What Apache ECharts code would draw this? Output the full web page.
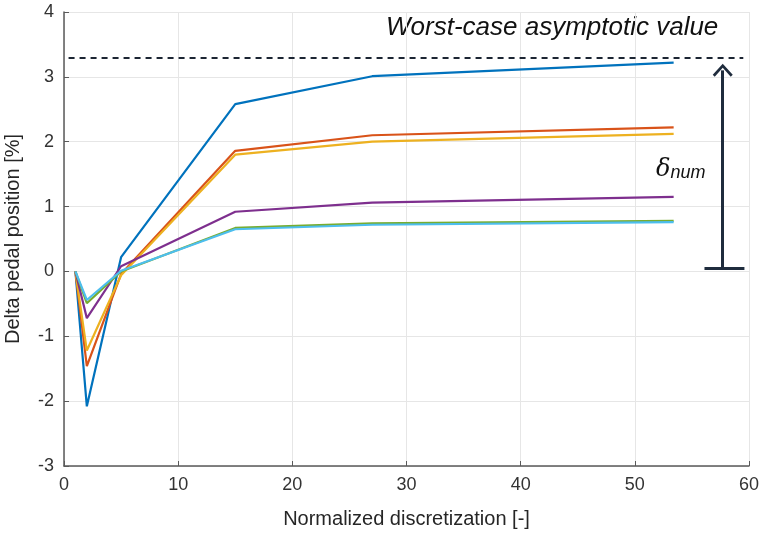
<!DOCTYPE html>
<html>
<head>
<meta charset="utf-8">
<script src="https://cdn.jsdelivr.net/npm/echarts@6/dist/echarts.min.js"></script>
<style>
  html, body { margin: 0; padding: 0; background: #fff; }
  #chart { width: 764px; height: 536px; }
</style>
</head>
<body>
<div id="chart"></div>
<script>
// Discretization levels (normalized) sampled for every run
const xPoints = [1, 2, 5, 15, 27, 53.4];

// Delta pedal position [%] for each run
const runBlue   = [0, -2.08, 0.22, 2.58, 3.01, 3.22];
const runOrange = [0, -1.46, -0.04, 1.86, 2.10, 2.22];
const runYellow = [0, -1.22, -0.06, 1.80, 2.00, 2.12];
const runPurple = [0, -0.72, 0.08, 0.92, 1.06, 1.15];
const runGreen  = [0, -0.49, 0.00, 0.67, 0.74, 0.78];
const runCyan   = [0, -0.44, 0.01, 0.65, 0.72, 0.76];

// Axis ticks
const xTicks = [0, 10, 20, 30, 40, 50, 60];
const yTicks = [-3, -2, -1, 0, 1, 2, 3, 4];

// Annotation values
const worstCase = 3.3;
const arrowX = 57.7;
const arrowBase = 0.05;
const arrowTop = 3.1;
const baseBarFrom = 56.1;
const baseBarTo = 59.6;
const dashFrom = 0.4;
const dashTo = 59.5;

const runs = [
  { data: runBlue,   color: '#0072BD' },
  { data: runOrange, color: '#D95319' },
  { data: runYellow, color: '#EDB120' },
  { data: runPurple, color: '#7E2F8E' },
  { data: runGreen,  color: '#77AC30' },
  { data: runCyan,   color: '#4DBEEE' }
];

const sans = '"Liberation Sans", Arial, sans-serif';
const annotColor = '#1f2c3d';

const chart = echarts.init(document.getElementById('chart'));

const lineSeries = runs.map(r => ({
  type: 'line',
  data: xPoints.map((x, i) => [x, r.data[i]]),
  showSymbol: false,
  symbol: 'none',
  lineStyle: { color: r.color, width: 2.2 },
  itemStyle: { color: r.color },
  z: 3
}));

const annotationSeries = {
  type: 'line',
  data: [],
  silent: true,
  z: 5,
  markLine: {
    silent: true,
    animation: false,
    label: { show: false },
    data: [
      [
        { coord: [dashFrom, worstCase], symbol: 'none', lineStyle: { type: [6, 5], width: 1.8, color: '#1c2533' } },
        { coord: [dashTo, worstCase], symbol: 'none' }
      ],
      [
        { coord: [arrowX, arrowBase], symbol: 'none', lineStyle: { type: 'solid', width: 3, color: annotColor } },
        { coord: [arrowX, arrowTop], symbol: 'path://M10,0 L20,11 L18,13 L10,4 L2,13 L0,11 Z', symbolSize: [20, 13] }
      ],
      [
        { coord: [baseBarFrom, arrowBase], symbol: 'none', lineStyle: { type: 'solid', width: 3, color: annotColor } },
        { coord: [baseBarTo, arrowBase], symbol: 'none' }
      ]
    ]
  }
};

chart.setOption({
  animation: false,
  backgroundColor: '#ffffff',
  grid: { left: 64, right: 15, top: 12, bottom: 70, containLabel: false, outerBoundsMode: 'none' },
  xAxis: {
    type: 'value',
    min: xTicks[0],
    max: xTicks[xTicks.length - 1],
    interval: 10,
    name: 'Normalized discretization [-]',
    nameLocation: 'middle',
    nameGap: 43,
    nameTextStyle: { fontFamily: sans, fontSize: 20, color: '#262626' },
    axisLine: { show: true, onZero: false, lineStyle: { color: '#5a5a5a', width: 1.5 } },
    axisTick: { show: true, inside: true, length: 5, lineStyle: { color: '#5a5a5a' } },
    axisLabel: { fontFamily: sans, fontSize: 18, color: '#333333', margin: 10 },
    splitLine: { show: true, lineStyle: { color: '#e6e6e6', width: 1 } }
  },
  yAxis: {
    type: 'value',
    min: yTicks[0],
    max: yTicks[yTicks.length - 1],
    interval: 1,
    name: 'Delta pedal position [%]',
    nameLocation: 'middle',
    nameGap: 41,
    nameTextStyle: { fontFamily: sans, fontSize: 20, color: '#262626' },
    axisLine: { show: true, lineStyle: { color: '#5a5a5a', width: 1.5 } },
    axisTick: { show: true, inside: true, length: 5, lineStyle: { color: '#5a5a5a' } },
    axisLabel: { fontFamily: sans, fontSize: 18, color: '#333333', margin: 10 },
    splitLine: { show: true, lineStyle: { color: '#e6e6e6', width: 1 } }
  },
  graphic: [
    {
      type: 'text',
      left: 386,
      top: 15,
      style: {
        text: 'Worst-case asymptotic value',
        fontFamily: sans,
        fontStyle: 'italic',
        fontSize: 26,
        fill: '#111111'
      }
    },
    {
      type: 'text',
      left: 656,
      top: 158,
      style: {
        text: '{d|δ}{s|num}',
        rich: {
          d: { fontFamily: '"DejaVu Serif", serif', fontStyle: 'italic', fontSize: 24, fill: '#111111', verticalAlign: 'bottom' },
          s: { fontFamily: sans, fontStyle: 'italic', fontSize: 18, fill: '#111111', padding: [14, 0, 0, 0] }
        }
      }
    }
  ],
  series: lineSeries.concat([annotationSeries])
});
</script>
</body>
</html>
